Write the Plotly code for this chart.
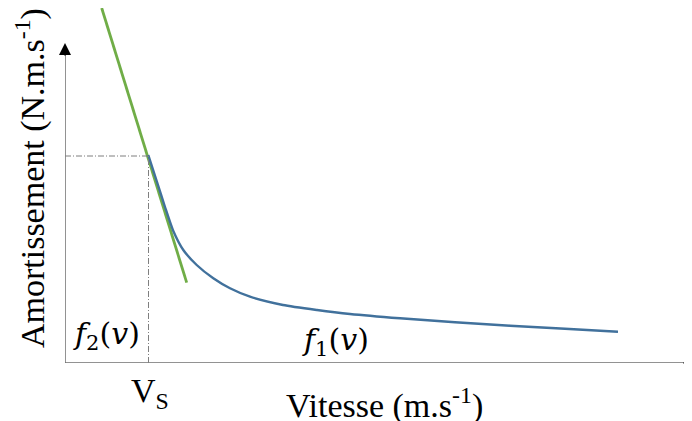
import plotly.graph_objects as go

# Data (abstract units: x = speed, y = damping)
blue_x = [83.3, 91.7, 100, 108.3, 118.3, 131.7, 148.3, 165, 185, 218, 252, 285, 335, 390, 445, 500, 553]
blue_y = [208, 182, 156, 132, 113, 98, 84.7, 74.7, 66.3, 58, 53, 49, 44.7, 40.8, 37.3, 34.2, 31.3]
green_x = [36.7, 121.7]
green_y = [355, 80.3]
vs_x = 83.5
vs_y = 207
x_max = 627
y_max = 355
y_axis_top = 320

fig = go.Figure()

# axes lines
fig.add_shape(type="line", x0=0, y0=0, x1=x_max, y1=0, line=dict(color="#6e6e6e", width=1.5), layer="below")
fig.add_shape(type="line", x0=0, y0=0, x1=0, y1=y_axis_top - 8, line=dict(color="#6e6e6e", width=1.5), layer="below")

# dash-dot guides
fig.add_shape(type="line", x0=0, y0=vs_y, x1=vs_x, y1=vs_y, line=dict(color="#7f7f7f", width=1, dash="6px,2px,1px,2px"))
fig.add_shape(type="line", x0=vs_x, y0=0, x1=vs_x, y1=vs_y, line=dict(color="#7f7f7f", width=1, dash="6px,2px,1px,2px"))

fig.add_trace(go.Scatter(x=green_x, y=green_y, mode="lines",
                         line=dict(color="#70AD47", width=2.8), hoverinfo="skip", cliponaxis=False))
fig.add_trace(go.Scatter(x=blue_x, y=blue_y, mode="lines",
                         line=dict(color="#41719C", width=2.4, shape="spline", smoothing=0.6), hoverinfo="skip"))

# arrowheads
fig.add_annotation(x=0, y=y_axis_top, ax=0, ay=y_axis_top - 14, xref="x", yref="y", axref="x", ayref="y",
                   showarrow=True, arrowhead=2, arrowsize=1.6, arrowwidth=1.5, arrowcolor="black", text="")
fig.add_annotation(x=x_max + 4, y=0, ax=x_max - 10, ay=0, xref="x", yref="y", axref="x", ayref="y",
                   showarrow=True, arrowhead=2, arrowsize=1.6, arrowwidth=1.5, arrowcolor="black", text="")

serif = "Liberation Serif, Times New Roman, serif"
math = "DejaVu Serif, serif"
fig.add_annotation(x=-0.0558, y=0.521, xref="paper", yref="paper", xanchor="center", yanchor="middle",
                   text="Amortissement (N.m.s<sup>-1</sup>)",
                   textangle=-90, showarrow=False, font=dict(family=serif, size=34, color="black"))
fig.add_annotation(x=0.5088, y=-0.1127, xref="paper", yref="paper", xanchor="center", yanchor="middle",
                   text="Vitesse (m.s<sup>-1</sup>)",
                   showarrow=False, font=dict(family=serif, size=34, color="black"))
fig.add_annotation(x=0.1356, y=-0.0845, xref="paper", yref="paper", xanchor="center", yanchor="middle",
                   text="V<sub>S</sub>",
                   showarrow=False, font=dict(family=serif, size=34, color="black"))
fig.add_annotation(x=41, y=28, xref="x", yref="y", text="<i>f</i><sub>2</sub>(<i>v</i>)",
                   showarrow=False, font=dict(family=math, size=30, color="black"))
fig.add_annotation(x=270, y=22, xref="x", yref="y", text="<i>f</i><sub>1</sub>(<i>v</i>)",
                   showarrow=False, font=dict(family=math, size=30, color="black"))

fig.update_xaxes(visible=False, range=[0, x_max], fixedrange=True)
fig.update_yaxes(visible=False, range=[0, y_max], fixedrange=True)
fig.update_layout(width=692, height=421, margin=dict(l=57, r=8, t=0, b=66),
                  plot_bgcolor="white", paper_bgcolor="white", showlegend=False)

fig.write_html("out.html")
